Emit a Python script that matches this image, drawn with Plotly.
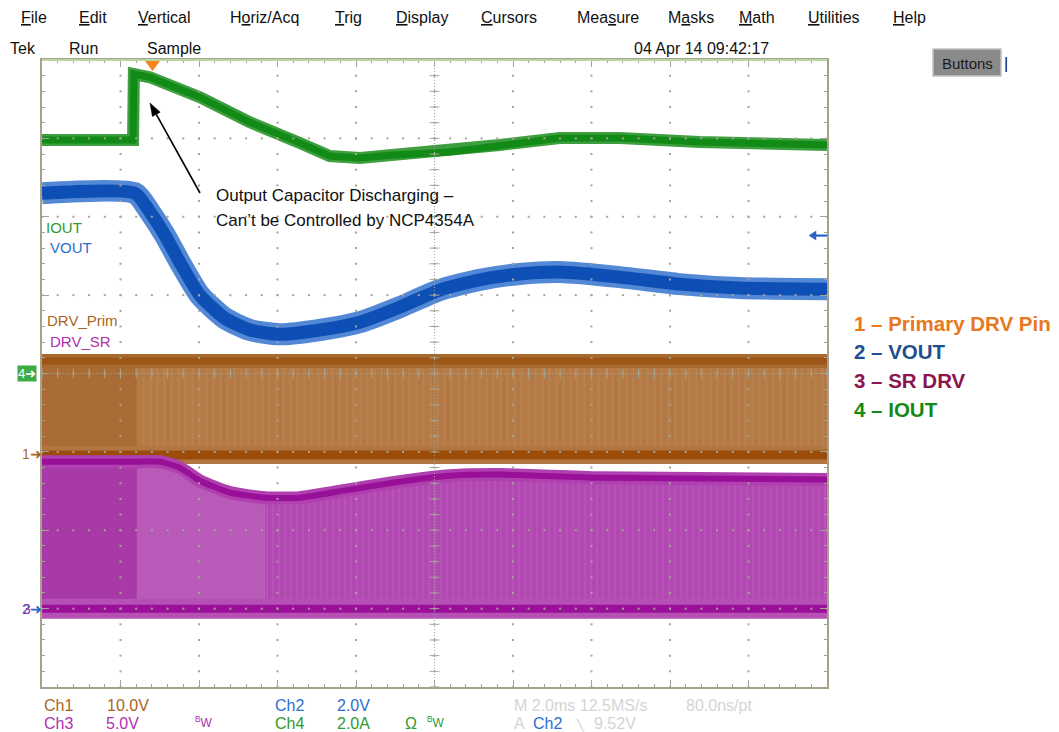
import math
import plotly.graph_objects as go

# ---------------- data ----------------
# time axis: ms relative to trigger (M 2.0 ms/div, trigger 1.4 div from left)
iout_t = [-2.80, -0.48, -0.46, -0.05, 1.22, 2.50, 3.77, 4.53, 5.30, 6.06, 7.59, 8.86, 10.39, 11.92, 13.95, 17.20]
iout_a = [5.96, 5.96, 7.64, 7.56, 7.05, 6.41, 5.88, 5.55, 5.50, 5.57, 5.65, 5.83, 6.01, 6.01, 5.91, 5.83]

vout_t = [-2.80, -0.43, -0.05, 0.33, 0.71, 1.22, 1.86, 2.50, 3.26, 4.28, 5.30, 6.31, 7.33, 8.35, 9.37, 10.39, 11.92, 13.44, 14.97, 17.20]
vout_v = [10.60, 10.60, 10.12, 9.53, 8.84, 8.00, 7.41, 7.11, 7.00, 7.11, 7.31, 7.69, 8.13, 8.39, 8.54, 8.59, 8.46, 8.28, 8.18, 8.15]

srdrv_t = [-2.80, -0.38, 0.20, 0.71, 1.22, 1.99, 2.88, 3.77, 5.04, 6.31, 7.59, 8.86, 11.41, 17.20]
srdrv_top_v = [9.37, 9.37, 9.37, 8.99, 8.16, 7.40, 7.08, 7.08, 7.59, 8.10, 8.48, 8.55, 8.35, 8.23]
srdrv_low_v = 0.0

prim_t = [-2.80, -0.38, 17.20]
prim_high_v = 12.0
prim_low_v = 0.0

trigger_level_v = 9.52

# channel vertical settings: units/div and ground-marker offset in divisions
CH1 = dict(scale=10.0, offset=-1.04)   # DRV_Prim
CH2 = dict(scale=2.0, offset=-3.0)     # VOUT
CH3 = dict(scale=5.0, offset=-3.0)     # DRV_SR
CH4 = dict(scale=2.0, offset=0.0)      # IOUT

menu_items = [("<u>F</u>ile", 20), ("<u>E</u>dit", 78), ("<u>V</u>ertical", 137), ("H<u>o</u>riz/Acq", 229),
              ("<u>T</u>rig", 334), ("<u>D</u>isplay", 395), ("<u>C</u>ursors", 480), ("Mea<u>s</u>ure", 576),
              ("M<u>a</u>sks", 667), ("<u>M</u>ath", 738), ("<u>U</u>tilities", 807), ("<u>H</u>elp", 892)]
legend_items = [("1 – Primary DRV Pin", "#e8771e"), ("2 – VOUT", "#1f4f8f"),
                ("3 – SR DRV", "#8c1550"), ("4 – IOUT", "#148a14")]

# ---------------- helpers ----------------
W, H = 1059, 732
ML, MR, MT, MB = 42, 232, 60, 45
PW, PH = W - ML - MR, H - MT - MB
X0, X1 = -2.8, 17.2
Y0, Y1 = -4.0, 4.0


def div(vals, ch):
    if isinstance(vals, (int, float)):
        return vals / ch["scale"] + ch["offset"]
    return [v / ch["scale"] + ch["offset"] for v in vals]


def px(x):
    return (x - ML) / PW


def py(y):
    return (MT + PH - y) / PH


def div_to_px(d):
    return MT + PH * (Y1 - d) / (Y1 - Y0)


def u(s):
    return s.replace("<u>", '<span style="text-decoration:underline">').replace("</u>", "</span>")


FONT = "Liberation Sans"
fig = go.Figure()


def line(x, y, color, width, shape="linear"):
    fig.add_trace(go.Scatter(x=x, y=y, mode="lines", line=dict(color=color, width=width, shape=shape, smoothing=0.6),
                             hoverinfo="skip", showlegend=False))


def band(x, ytop, ybot, color, pattern=None):
    xs = list(x) + list(x)[::-1]
    ys = list(ytop) + list(ybot)[::-1]
    kw = {}
    if pattern:
        kw["fillpattern"] = pattern
    fig.add_trace(go.Scatter(x=xs, y=ys, mode="lines", fill="toself", fillcolor=color, line=dict(width=0),
                             hoverinfo="skip", showlegend=False, **kw))


# ---- Ch2 VOUT (blue) ----
vy = div(vout_v, CH2)
line(vout_t, vy, "#5288d6", 22, "spline")
line(vout_t, vy, "#0d4fb4", 13, "spline")

# ---- Ch1 DRV_Prim (brown) ----
p_hi, p_lo = div(prim_high_v, CH1), div(prim_low_v, CH1)
band(prim_t[0:2], [p_hi] * 2, [p_lo] * 2, "#a96c34")
band(prim_t[1:3], [p_hi] * 2, [p_lo] * 2, "#b47c48",
     pattern=dict(shape="|", bgcolor="#b37a46", fgcolor="#bd8853", size=7, solidity=0.3))
line(prim_t[::2], [p_hi] * 2, "#a8692e", 14)
line(prim_t[::2], [p_hi] * 2, "#9c5618", 7)
line(prim_t[::2], [p_lo] * 2, "#b37640", 18)
line(prim_t[::2], [p_lo] * 2, "#9a4c08", 9)

# ---- Ch3 DRV_SR (purple) ----
s_top = div(srdrv_top_v, CH3)
s_lo = div(srdrv_low_v, CH3)
band(srdrv_t[0:2], s_top[0:2], [s_lo] * 2, "#a83aa8")
band(srdrv_t[1:7], s_top[1:7], [s_lo] * 6, "#b95ab9")
band(srdrv_t[6:], s_top[6:], [s_lo] * len(srdrv_t[6:]), "#b24bb2",
     pattern=dict(shape="|", bgcolor="#b249b2", fgcolor="#bb5fbb", size=6, solidity=0.3))
line(srdrv_t, s_top, "#b040b0", 13, "spline")
line(srdrv_t, s_top, "#980f98", 6, "spline")
line([X0, X1], [s_lo] * 2, "#b550b5", 20)
line([X0, X1], [s_lo] * 2, "#9a109a", 8)

# ---- Ch4 IOUT (green) ----
iy = div(iout_a, CH4)
line(iout_t, iy, "#3f9e3f", 12)
line(iout_t, iy, "#118a16", 7)

# ---- graticule dots (drawn above traces) ----
GC = "#a4a496"
gx, gy = [], []
for k in range(1, 10):
    xv = X0 + 2 * k
    for j in range(41):
        gx.append(xv)
        gy.append(Y0 + 0.2 * j)
for k in range(1, 8):
    yv = Y0 + k
    for j in range(51):
        gx.append(X0 + 0.4 * j)
        gy.append(yv)
fig.add_trace(go.Scatter(x=gx, y=gy, mode="markers", marker=dict(symbol="square", size=2, color=GC, line=dict(width=0)),
                         hoverinfo="skip", showlegend=False))
# centre-line tick marks
fig.add_trace(go.Scatter(x=[X0 + 0.4 * j for j in range(51)], y=[0] * 51, mode="markers",
                         marker=dict(symbol="line-ns-open", size=7, color=GC, line=dict(color=GC, width=1)),
                         hoverinfo="skip", showlegend=False))
fig.add_trace(go.Scatter(x=[7.2] * 41, y=[Y0 + 0.2 * j for j in range(41)], mode="markers",
                         marker=dict(symbol="line-ew-open", size=7, color=GC, line=dict(color=GC, width=1)),
                         hoverinfo="skip", showlegend=False))


def arrow_shapes(tail, head, color, width, hl, hw):
    (x0, y0), (x1, y1) = tail, head
    dx, dy = x1 - x0, y1 - y0
    n = math.hypot(dx, dy)
    ux, uy = dx / n, dy / n
    bx, by = x1 - ux * hl, y1 - uy * hl
    lx, ly = bx - uy * hw, by + ux * hw
    rx, ry = bx + uy * hw, by - ux * hw
    return [
        dict(type="line", xref="paper", yref="paper", x0=px(x0), y0=py(y0), x1=px(bx), y1=py(by),
             line=dict(color=color, width=width), layer="above"),
        dict(type="path", xref="paper", yref="paper",
             path=f"M {px(x1)},{py(y1)} L {px(lx)},{py(ly)} L {px(rx)},{py(ry)} Z",
             fillcolor=color, line=dict(color=color, width=0.5), layer="above"),
    ]


shapes = [
    dict(type="line", xref="x", yref="y", x0=X0, x1=X1, y0=0, y1=0, line=dict(color=GC, width=1, dash="1px,2px"), layer="above"),
    dict(type="line", xref="x", yref="y", x0=7.2, x1=7.2, y0=Y0, y1=Y1, line=dict(color=GC, width=1, dash="1px,2px"), layer="above"),
    # top frame edge (greenish)
    dict(type="line", xref="paper", yref="paper", x0=0, x1=1, y0=1, y1=1, line=dict(color="#b9d9a2", width=2), layer="above"),
    # trigger position marker
    dict(type="path", xref="paper", yref="paper",
         path=f"M {px(145)},{py(61)} L {px(160)},{py(61)} L {px(152.5)},{py(71)} Z",
         fillcolor="#f7821e", line=dict(width=0), layer="above"),
    # Buttons box
    dict(type="rect", xref="paper", yref="paper", x0=px(933), x1=px(1001), y0=py(76), y1=py(49),
         fillcolor="#8a8a8a", line=dict(color="#c2c2c2", width=1.5)),
]
# callout arrow
shapes += arrow_shapes((200, 193), (150, 103), "#000000", 1.6, 13, 4.5)
# trigger level arrow on the right edge
trig_px = div_to_px(div(trigger_level_v, CH2))
shapes += arrow_shapes((827, trig_px), (809, trig_px), "#2a62c8", 2.2, 7, 4.5)

ann = []


def txt(x, y, s, color, size, anchor="left", font=FONT, bg=None):
    d = dict(xref="paper", yref="paper", x=px(x), y=py(y), text=s, showarrow=False, xanchor=anchor,
             yanchor="middle", font=dict(family=font, size=size, color=color), borderpad=0)
    if bg:
        d["bgcolor"] = bg
    ann.append(d)


# menu bar
for s, x in menu_items:
    txt(x, 17, u(s), "#111111", 16)
# status row
txt(9, 49, "Tek", "#111111", 16)
txt(68, 49, "Run", "#111111", 16)
txt(146, 49, "Sample", "#111111", 16)
txt(633, 49, "04 Apr 14 09:42:17", "#111111", 16)
txt(967, 63, "Buttons", "#1a1a1a", 15, anchor="center")
txt(1003, 63, "|", "#111111", 16)

# channel labels inside graticule
txt(45, 228, "IOUT", "#2f9a2f", 15)
txt(49, 248, "VOUT", "#2a6fd0", 15)
txt(46, 321, "DRV_Prim", "#a8641f", 15)
txt(49, 341, "DRV_SR", "#b030b0", 15)

# ground markers
txt(17, 373.5, "4➜", "#ffffff", 13, bg="#3dac47")
txt(21, 454, "1➜", "#a8641f", 14)
txt(21, 609, "2➜", "#2a5fd0", 14)
txt(22, 609, "3", "#a030a8", 14)

# bottom readouts
txt(43, 705, "Ch1", "#a8641f", 16)
txt(106, 705, "10.0V", "#a8641f", 16)
txt(274, 705, "Ch2", "#2a6fd0", 16)
txt(336, 705, "2.0V", "#2a6fd0", 16)
txt(513, 705, "M 2.0ms 12.5MS/s", "#d4d4d4", 16)
txt(685, 705, "80.0ns/pt", "#d4d4d4", 16)
txt(43, 724, "Ch3", "#b030b0", 16)
txt(105, 724, "5.0V", "#b030b0", 16)
txt(194, 722, "<sup>B</sup>W", "#b030b0", 12)
txt(274, 724, "Ch4", "#2f9a2f", 16)
txt(336, 724, "2.0A", "#2f9a2f", 16)
txt(404, 724, "Ω", "#2f9a2f", 16)
txt(426, 722, "<sup>B</sup>W", "#2f9a2f", 12)
txt(513, 724, "A", "#d4d4d4", 16)
txt(532, 724, "Ch2", "#2a6fd0", 16)
txt(575, 725, "╲", "#c8c8c8", 11)
txt(593, 724, f"{trigger_level_v:.2f}V", "#d4d4d4", 16)

# callout text
txt(215, 195, "Output Capacitor Discharging –", "#111111", 17)
txt(215, 221, "Can’t be Controlled by NCP4354A", "#111111", 17)

# right-hand legend
for i, (s, c) in enumerate(legend_items):
    txt(853, 323 + 28.7 * i, f"<b>{s}</b>", c, 20.5)

AX = "#a8a08a"
fig.update_layout(
    width=W, height=H,
    margin=dict(l=ML, r=MR, t=MT, b=MB, pad=0),
    paper_bgcolor="white", plot_bgcolor="white",
    showlegend=False,
    xaxis=dict(range=[X0, X1], showgrid=False, zeroline=False, showticklabels=False,
               showline=True, linecolor=AX, linewidth=2, mirror="ticks",
               ticks="inside", ticklen=7, tickcolor=GC, tick0=X0, dtick=2, layer="above traces",
               minor=dict(ticks="inside", ticklen=3, tickcolor=GC, dtick=0.4, tick0=X0, showgrid=False)),
    yaxis=dict(range=[Y0, Y1], showgrid=False, zeroline=False, showticklabels=False,
               showline=True, linecolor=AX, linewidth=2, mirror="ticks",
               ticks="inside", ticklen=7, tickcolor=GC, tick0=Y0, dtick=1, layer="above traces",
               minor=dict(ticks="inside", ticklen=3, tickcolor=GC, dtick=0.2, tick0=Y0, showgrid=False)),
    shapes=shapes,
    annotations=ann,
)

fig.write_html("out.html", config={"displayModeBar": False},
               post_script="document.body.style.margin='0';document.body.style.overflow='hidden';")
